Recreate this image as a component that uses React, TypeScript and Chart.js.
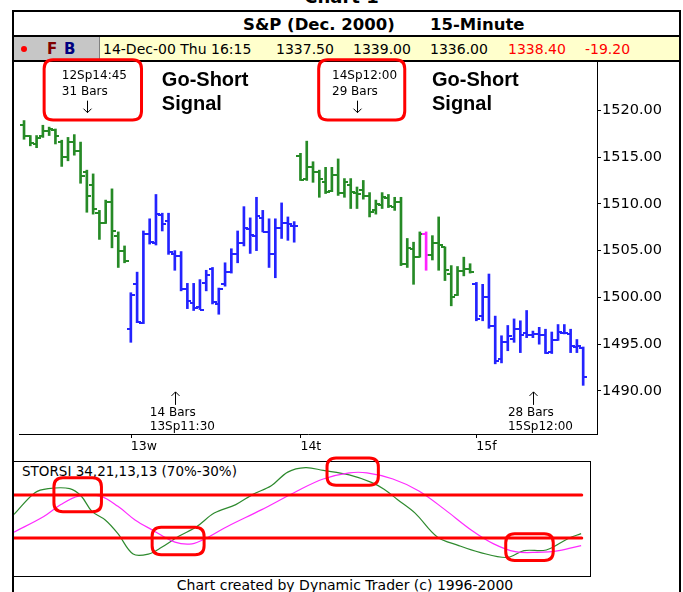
import React, { useEffect, useRef } from 'react';
import { Chart, registerables } from 'chart.js';

Chart.register(...registerables);

// ---------- price bars (15-minute OHLC) ----------
const opens = [
  1518.4, 1517.2, 1516.4, 1517.2, 1517.8, 1517.9, 1516.6, 1515.0, 1516.6, 1515.6,
  1513.4, 1512.0, 1509.0, 1508.0, 1510.2, 1506.6, 1505.0,
  1496.6, 1501.4, 1497.3, 1506.8, 1505.8, 1508.8, 1508.2, 1504.6, 1504.4, 1500.9,
  1499.4, 1499.0, 1501.5, 1503.0, 1499.3, 1501.4, 1502.7, 1504.6, 1505.8, 1507.3,
  1506.6, 1508.5, 1507.0, 1504.6, 1507.4, 1508.0, 1507.6,
  1515.1, 1512.7, 1513.9, 1513.4, 1512.3, 1511.4, 1513.1, 1511.2, 1512.0, 1511.2,
  1511.5, 1510.8, 1509.3, 1509.9, 1510.6, 1509.7, 1510.2, 1503.6, 1505.2, 1504.3,
  1506.8, 1504.5, 1505.8, 1505.4, 1502.5, 1500.3, 1502.8, 1503.0,
  1501.4, 1498.0, 1500.0, 1496.9, 1493.4, 1495.2, 1495.6, 1496.6, 1496.2, 1496.0,
  1496.1, 1496.0, 1494.2, 1495.5, 1496.2, 1496.1, 1494.7, 1494.6,
];
const highs = [
  1518.9, 1517.3, 1517.3, 1518.4, 1518.2, 1518.0, 1516.8, 1517.1, 1517.4, 1516.6,
  1513.6, 1513.2, 1509.3, 1510.4, 1511.6, 1507.0, 1505.5,
  1500.5, 1502.7, 1507.1, 1508.4, 1511.0, 1509.0, 1509.0, 1505.0, 1504.9, 1501.5,
  1501.5, 1501.9, 1502.9, 1503.2, 1501.0, 1503.7, 1505.2, 1507.1, 1509.7, 1508.5,
  1510.7, 1509.3, 1508.4, 1508.4, 1510.1, 1508.6, 1508.1,
  1515.4, 1516.7, 1514.5, 1513.6, 1513.9, 1513.9, 1514.8, 1512.7, 1512.7, 1511.8,
  1512.5, 1511.2, 1510.4, 1511.2, 1511.0, 1510.7, 1510.7, 1506.3, 1505.9, 1507.0,
  1507.0, 1506.6, 1508.6, 1505.4, 1503.4, 1503.3, 1504.3, 1503.6,
  1501.6, 1501.4, 1502.5, 1498.0, 1495.9, 1497.0, 1497.7, 1497.5, 1498.6, 1496.4,
  1496.8, 1496.6, 1496.3, 1497.1, 1497.1, 1496.6, 1495.5, 1494.7,
];
const lows = [
  1516.9, 1516.2, 1516.0, 1517.1, 1517.3, 1516.4, 1514.0, 1514.6, 1515.2, 1512.2,
  1509.1, 1508.9, 1506.2, 1507.9, 1505.3, 1503.2, 1503.7,
  1495.2, 1497.3, 1497.2, 1505.7, 1505.6, 1507.1, 1504.6, 1502.9, 1500.7, 1498.8,
  1498.6, 1498.7, 1500.7, 1499.3, 1498.2, 1501.2, 1502.6, 1503.7, 1505.5, 1504.7,
  1505.0, 1507.0, 1503.2, 1502.1, 1506.3, 1506.1, 1505.9,
  1512.5, 1512.5, 1512.3, 1510.7, 1511.1, 1511.3, 1510.9, 1510.7, 1509.5, 1509.5,
  1510.5, 1508.6, 1508.9, 1509.5, 1509.6, 1509.3, 1503.4, 1503.2, 1501.4, 1504.3,
  1502.9, 1504.0, 1502.9, 1501.8, 1499.1, 1500.2, 1502.3, 1502.6,
  1497.5, 1497.5, 1496.7, 1492.9, 1493.0, 1494.3, 1495.2, 1494.1, 1495.7, 1495.7,
  1495.0, 1494.0, 1494.0, 1495.4, 1496.1, 1494.1, 1494.1, 1490.6,
];
const closes = [
  1517.2, 1516.5, 1517.0, 1517.8, 1518.0, 1517.3, 1515.0, 1516.6, 1515.6, 1513.0,
  1510.8, 1509.4, 1508.0, 1510.2, 1507.1, 1505.0, 1503.9,
  1500.3, 1497.4, 1506.8, 1505.9, 1508.9, 1507.8, 1504.8, 1504.4, 1500.9, 1499.6,
  1498.9, 1498.7, 1502.4, 1499.5, 1500.9, 1502.7, 1504.6, 1505.8, 1507.4, 1506.7,
  1508.7, 1507.0, 1504.6, 1507.4, 1508.0, 1507.8, 1507.6,
  1512.6, 1513.9, 1513.4, 1512.7, 1511.3, 1513.1, 1511.2, 1512.3, 1511.3, 1511.0,
  1510.8, 1509.1, 1510.0, 1510.7, 1509.8, 1510.2, 1503.6, 1505.3, 1504.3, 1506.8,
  1504.5, 1505.8, 1505.6, 1502.9, 1500.0, 1502.8, 1503.0, 1502.7,
  1497.7, 1500.0, 1496.9, 1493.2, 1495.2, 1495.9, 1496.6, 1496.0, 1496.0, 1496.1,
  1496.0, 1494.1, 1495.4, 1496.3, 1496.2, 1494.8, 1494.8, 1491.5,
];

// sessions: first bar index of each day, its colour, and the x-axis day labels
const dayStarts = [0, 17, 44, 72];
const dayColors = ['#268a26', '#2323ff', '#268a26', '#2323ff'];
const highlightBar = 64;
const highlightColor = '#ff22ff';
const dayTickBars = [17, 44, 72];
const dayTickLabels = ['13w', '14t', '15f'];
const priceTicks = [1490, 1495, 1500, 1505, 1510, 1515, 1520];

// time-projection notes
const topNoteBars = [10, 53];
const topNoteDates = ['12Sp14:45', '14Sp12:00'];
const topNoteCounts = ['31 Bars', '29 Bars'];
const topBoxFrom = [3.2, 46.9];
const topBoxTo = [18.7, 60.6];
const bottomNoteBars = [24, 81];
const bottomNoteCounts = ['14 Bars', '28 Bars'];
const bottomNoteDates = ['13Sp11:30', '15Sp12:00'];
const signalLines = ['Go-Short', 'Signal'];

// ---------- STORSI oscillator ----------
const fastX = [-0.8, 2.5, 4.6, 8.0, 9.8, 11.5, 13.6, 15.6, 18.0, 20.4, 22.5, 25.2, 28.0, 30.8, 34.2, 36.9, 39.8,
  42.4, 45.2, 48.0, 52.1, 55.6, 57.6, 59.7, 62.5, 66.0, 69.4, 72.7, 77.0, 79.7, 83.2, 86.6, 88.7];
const fastY = [52, 72.2, 76.0, 76.0, 69.1, 54.8, 46.8, 34.1, 15.1, 15.1, 21.4, 31.6, 40.5, 53.2, 61.1, 70.6, 78.6,
  91.3, 95.4, 92.9, 88.7, 81.8, 75.4, 65.9, 53.2, 31.0, 23.0, 16.7, 11.9, 18.3, 18.9, 29.4, 34.1];
const slowX = [-0.8, 3.9, 6.6, 9.4, 12.8, 15.6, 18.3, 21.1, 24.6, 27.3, 29.4, 32.8, 38.3, 43.9, 48.0, 52.1,
  54.9, 59.0, 63.1, 67.2, 71.4, 74.9, 78.3, 81.7, 85.2, 88.7];
const slowY = [35.5, 50.0, 61.1, 69.0, 69.0, 59.5, 46.8, 37.3, 26.2, 24.6, 29.4, 40.5, 56.4, 73.8, 84.9, 90.6,
  90.6, 84.9, 73.8, 56.4, 37.3, 24.6, 17.3, 16.7, 18.3, 23.0];
const levelValues = [70, 30];
const levelFrom = -0.8;
const levelTo = 88.8;
const ringFrom = [5.5, 21.0, 48.6, 76.8];
const ringTo = [13.0, 29.2, 56.7, 84.3];
const ringTop = [86.0, 40.0, 104.5, 34.0];
const ringBottom = [54.5, 14.5, 79.0, 9.0];

// ---------- helpers ----------
function barColor(i: number) {
  if (i === highlightBar) return highlightColor;
  let d = 0;
  for (let k = 0; k < dayStarts.length; k++) if (i >= dayStarts[k]) d = k;
  return dayColors[d];
}

const tickCache: Record<string, HTMLCanvasElement> = {};
function tickImage(color: string, side: 'L' | 'R') {
  const key = color + side;
  if (!tickCache[key]) {
    const c = document.createElement('canvas');
    c.width = 8;
    c.height = 2;
    const g = c.getContext('2d')!;
    g.fillStyle = color;
    g.fillRect(side === 'L' ? 0 : 4, 0, 4, 2);
    tickCache[key] = c;
  }
  return tickCache[key];
}

function roundRectPath(ctx: CanvasRenderingContext2D, x: number, y: number, w: number, h: number, r: number) {
  ctx.beginPath();
  ctx.moveTo(x + r, y);
  ctx.lineTo(x + w - r, y);
  ctx.quadraticCurveTo(x + w, y, x + w, y + r);
  ctx.lineTo(x + w, y + h - r);
  ctx.quadraticCurveTo(x + w, y + h, x + w - r, y + h);
  ctx.lineTo(x + r, y + h);
  ctx.quadraticCurveTo(x, y + h, x, y + h - r);
  ctx.lineTo(x, y + r);
  ctx.quadraticCurveTo(x, y, x + r, y);
  ctx.closePath();
}

function arrow(ctx: CanvasRenderingContext2D, x: number, y0: number, y1: number, down: boolean) {
  const cx = Math.round(x) + 0.5;
  ctx.beginPath();
  ctx.moveTo(cx, y0);
  ctx.lineTo(cx, y1);
  const tip = down ? y1 : y0;
  const dir = down ? -1 : 1;
  ctx.moveTo(cx - 4, tip + dir * 4);
  ctx.lineTo(cx, tip);
  ctx.lineTo(cx + 4, tip + dir * 4);
  ctx.stroke();
}

const priceNotesPlugin = {
  id: 'priceNotes',
  afterDraw(chart: any) {
    const { ctx, chartArea } = chart;
    const xs = chart.scales.x;
    const ys = chart.scales.y;
    ctx.save();
    // day tick marks under the time axis
    ctx.strokeStyle = '#000';
    ctx.lineWidth = 1;
    ctx.beginPath();
    dayTickBars.forEach((bar) => {
      const px = Math.round(xs.getPixelForValue(bar)) + 0.5;
      ctx.moveTo(px, chartArea.bottom);
      ctx.lineTo(px, chartArea.bottom + 4);
    });
    ctx.stroke();
    // red rounded boxes around the top notes
    ctx.strokeStyle = '#ff0000';
    ctx.lineWidth = 3;
    for (let k = 0; k < topBoxFrom.length; k++) {
      const l = xs.getPixelForValue(topBoxFrom[k]);
      const r = xs.getPixelForValue(topBoxTo[k]);
      const t = ys.getPixelForValue(1525.4);
      const b = ys.getPixelForValue(1518.95);
      roundRectPath(ctx, l, t, r - l, b - t, 9);
      ctx.stroke();
    }
    ctx.fillStyle = '#000';
    ctx.strokeStyle = '#000';
    ctx.lineWidth = 1;
    ctx.textAlign = 'left';
    ctx.textBaseline = 'middle';
    ctx.font = '12px "DejaVu Sans"';
    topNoteBars.forEach((bar, k) => {
      const ax = xs.getPixelForValue(bar);
      const y0 = ys.getPixelForValue(1523.7);
      ctx.fillText(topNoteDates[k], ax - 25, y0);
      ctx.fillText(topNoteCounts[k], ax - 25, y0 + 16.5);
      arrow(ctx, ax, y0 + 25, y0 + 37, true);
    });
    bottomNoteBars.forEach((bar, k) => {
      const ax = xs.getPixelForValue(bar);
      const yb = ys.getPixelForValue(1489.9);
      arrow(ctx, ax, yb, yb + 13, false);
      ctx.fillText(bottomNoteCounts[k], ax - 25, yb + 21);
      ctx.fillText(bottomNoteDates[k], ax - 25, yb + 35);
    });
    ctx.font = 'bold 20px "Liberation Sans"';
    ctx.textBaseline = 'alphabetic';
    topNoteBars.forEach((bar) => {
      const ax = xs.getPixelForValue(bar) + 75;
      const yb = ys.getPixelForValue(1522.6);
      ctx.fillText(signalLines[0], ax, yb);
      ctx.fillText(signalLines[1], ax, yb + 24);
    });
    ctx.restore();
  },
};

const ringsPlugin = {
  id: 'rings',
  afterDraw(chart: any) {
    const { ctx } = chart;
    const xs = chart.scales.x;
    const ys = chart.scales.y;
    ctx.save();
    ctx.strokeStyle = '#ff0000';
    ctx.lineWidth = 3;
    for (let k = 0; k < ringFrom.length; k++) {
      const l = xs.getPixelForValue(ringFrom[k]);
      const r = xs.getPixelForValue(ringTo[k]);
      const t = ys.getPixelForValue(ringTop[k]);
      const b = ys.getPixelForValue(ringBottom[k]);
      roundRectPath(ctx, l, t, r - l, b - t, 9);
      ctx.stroke();
    }
    ctx.restore();
  },
};

const abs = (o: React.CSSProperties): React.CSSProperties => ({ position: 'absolute', ...o });

export default function App() {
  const priceRef = useRef<HTMLCanvasElement>(null);
  const oscRef = useRef<HTMLCanvasElement>(null);

  useEffect(() => {
    const idx = opens.map((_, i) => i);
    const colors = idx.map(barColor);
    const priceChart = new Chart(priceRef.current!, {
      type: 'bar',
      data: {
        datasets: [
          {
            type: 'bar',
            data: idx.map((i) => ({ x: i, y: [lows[i], highs[i]] })) as any,
            backgroundColor: colors,
            borderWidth: 0,
            barThickness: 2,
            grouped: false,
          } as any,
          {
            type: 'scatter',
            data: idx.map((i) => ({ x: i, y: opens[i] })),
            pointStyle: (c: any) => tickImage(colors[c.dataIndex] || colors[0], 'L'),
            pointRadius: 2,
          } as any,
          {
            type: 'scatter',
            data: idx.map((i) => ({ x: i, y: closes[i] })),
            pointStyle: (c: any) => tickImage(colors[c.dataIndex] || colors[0], 'R'),
            pointRadius: 2,
          } as any,
        ],
      },
      options: {
        animation: false,
        responsive: false,
        maintainAspectRatio: false,
        layout: { padding: { top: 6, left: 0, right: 0, bottom: 0 } },
        plugins: { legend: { display: false }, tooltip: { enabled: false } },
        scales: {
          x: {
            type: 'linear',
            min: -0.8,
            max: 91.2,
            offset: false,
            afterBuildTicks: (s: any) => {
              s.ticks = dayTickBars.map((v) => ({ value: v }));
            },
            afterFit: (s: any) => {
              s.height = 20;
              s.paddingLeft = 0;
              s.paddingRight = 0;
            },
            ticks: {
              autoSkip: false,
              maxRotation: 0,
              align: 'start',
              padding: 1,
              color: '#000',
              font: { family: 'DejaVu Sans', size: 12.5 },
              callback: (_v: any, i: number) => dayTickLabels[i],
            },
            grid: { display: false, offset: false, drawOnChartArea: false, drawTicks: true, tickLength: 4 },
            border: { display: true, color: '#000', width: 1 },
          },
          y: {
            position: 'right',
            min: 1485.4,
            max: 1525.16,
            afterBuildTicks: (s: any) => {
              s.ticks = priceTicks.map((v) => ({ value: v }));
            },
            afterFit: (s: any) => {
              s.width = 83;
              s.paddingTop = 0;
              s.paddingBottom = 0;
            },
            ticks: {
              padding: 1,
              color: '#000',
              font: { family: 'DejaVu Sans', size: 14.5 },
              callback: (v: any) => Number(v).toFixed(2),
            },
            grid: { offset: false, drawOnChartArea: false, drawTicks: true, tickLength: 4, color: '#000' },
            border: { display: true, color: '#000', width: 1 },
          },
        },
      } as any,
      plugins: [priceNotesPlugin],
    });

    const levelSets = levelValues.map((v) => ({
      data: [
        { x: levelFrom, y: v },
        { x: levelTo, y: v },
      ],
      borderColor: '#ff0000',
      borderWidth: 3,
      pointRadius: 0,
      borderCapStyle: 'round',
    }));
    const oscChart = new Chart(oscRef.current!, {
      type: 'line',
      data: {
        datasets: [
          ...levelSets,
          {
            data: slowX.map((x, i) => ({ x, y: slowY[i] })),
            borderColor: '#ff2aff',
            borderWidth: 1.2,
            pointRadius: 0,
            tension: 0.35,
          },
          {
            data: fastX.map((x, i) => ({ x, y: fastY[i] })),
            borderColor: '#2e8a2e',
            borderWidth: 1.2,
            pointRadius: 0,
            tension: 0.35,
          },
        ] as any,
      },
      options: {
        animation: false,
        responsive: false,
        maintainAspectRatio: false,
        layout: { padding: { top: 8, bottom: 4, left: 0, right: 0 } },
        plugins: { legend: { display: false }, tooltip: { enabled: false } },
        scales: {
          x: { type: 'linear', min: -0.8, max: 90.1, display: false },
          y: { min: -5.3, max: 100.7, display: false },
        },
      } as any,
      plugins: [ringsPlugin],
    });

    return () => {
      priceChart.destroy();
      oscChart.destroy();
    };
  }, []);

  const sans = '"DejaVu Sans", sans-serif';
  return (
    <div style={abs({ left: 0, top: 0, width: 683, height: 592, overflow: 'hidden', background: '#fff', fontFamily: sans, color: '#000' })}>
      <div style={abs({ left: 0, top: -13, width: 683, textAlign: 'center', font: `bold 18px ${sans}`, lineHeight: '20px' })}>Chart 1</div>
      <div style={abs({ left: 12, top: 10, width: 669, height: 620, border: '2px solid #000', boxSizing: 'border-box' })} />
      <div style={abs({ left: 243, top: 14, font: `bold 16.5px ${sans}`, lineHeight: '22px', whiteSpace: 'nowrap' })}>S&amp;P (Dec. 2000)</div>
      <div style={abs({ left: 430, top: 14, font: `bold 16.5px ${sans}`, lineHeight: '22px', whiteSpace: 'nowrap' })}>15-Minute</div>
      <div style={abs({ left: 12, top: 35, width: 669, height: 2, background: '#000' })} />
      <div style={abs({ left: 14, top: 37, width: 86, height: 23, background: '#c6c6c6', borderRight: '1px solid #808080', boxSizing: 'border-box' })} />
      <div style={abs({ left: 100, top: 37, width: 579, height: 23, background: '#ffffcc' })} />
      <div style={abs({ left: 21, top: 46, width: 6, height: 6, borderRadius: 3, background: '#ff0000' })} />
      <div style={abs({ left: 47, top: 37, font: `bold 15px ${sans}`, lineHeight: '24px', color: '#800000' })}>F</div>
      <div style={abs({ left: 64, top: 37, font: `bold 15px ${sans}`, lineHeight: '24px', color: '#000080' })}>B</div>
      {[
        ['14-Dec-00 Thu 16:15', 103, '#000'],
        ['1337.50', 276, '#000'],
        ['1339.00', 353, '#000'],
        ['1336.00', 430, '#000'],
        ['1338.40', 508, '#ff0000'],
        ['-19.20', 585, '#ff0000'],
      ].map(([t, l, c]) => (
        <div key={String(t)} style={abs({ left: l as number, top: 37, font: `14px ${sans}`, lineHeight: '24px', color: c as string, whiteSpace: 'nowrap' })}>
          {t}
        </div>
      ))}
      <div style={abs({ left: 12, top: 60, width: 669, height: 2, background: '#000' })} />
      <div style={abs({ left: 12, top: 461, width: 579, height: 116, border: '1px solid #000', boxSizing: 'border-box' })} />
      <div style={abs({ left: 22, top: 463, font: `13.5px ${sans}`, lineHeight: '16px', whiteSpace: 'nowrap' })}>STORSI 34,21,13,13 (70%-30%)</div>
      <div style={abs({ left: 0, top: 577, width: 690, textAlign: 'center', font: `14px ${sans}`, lineHeight: '17px', whiteSpace: 'nowrap' })}>
        Chart created by Dynamic Trader (c) 1996-2000
      </div>
      <canvas ref={priceRef} width={666} height={398} style={abs({ left: 14, top: 56, width: 666, height: 398 })} />
      <canvas ref={oscRef} width={576} height={126} style={abs({ left: 14, top: 454, width: 576, height: 126 })} />
    </div>
  );
}
